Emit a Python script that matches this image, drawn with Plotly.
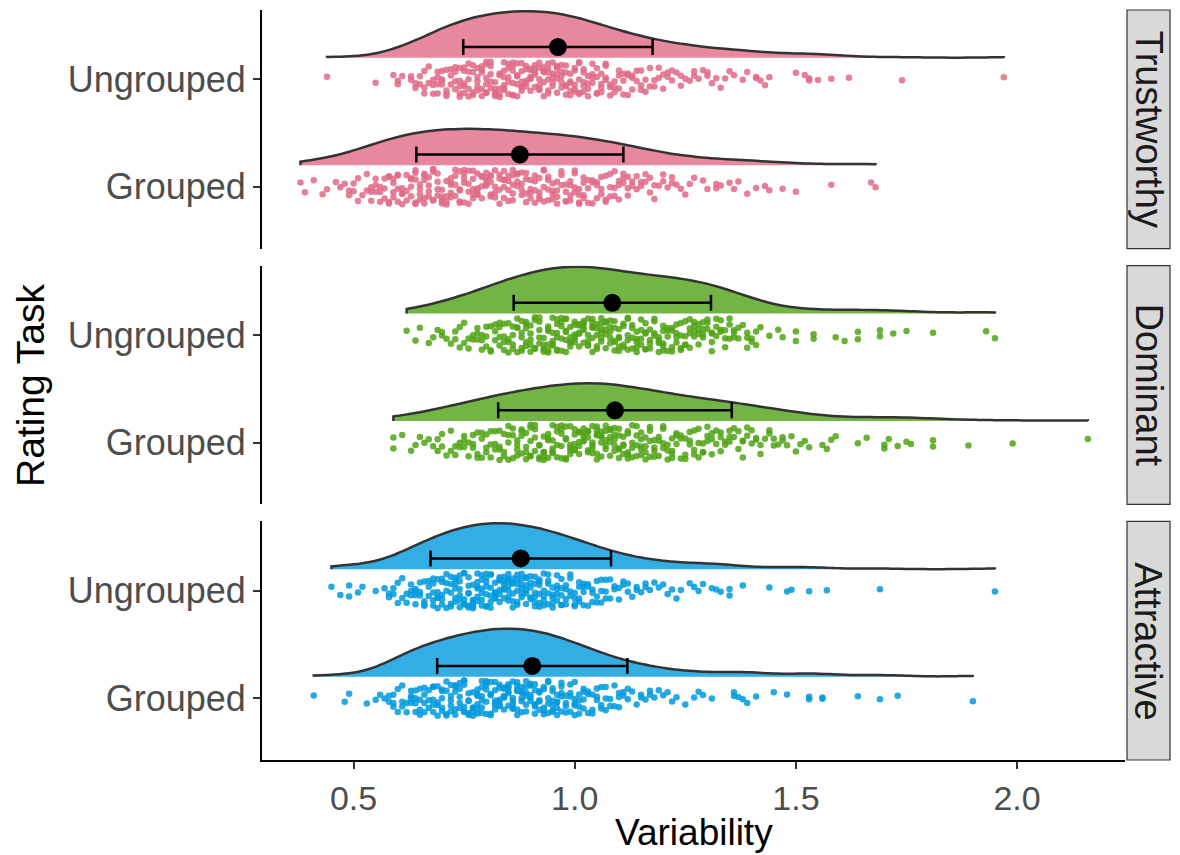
import plotly.graph_objects as go
from plotly.subplots import make_subplots

# ---------------- data ----------------
tasks = ["Trustworthy", "Dominant", "Attractive"]
conditions = ["Grouped", "Ungrouped"]
task_colors = ["#E16A86", "#50A315", "#009ADE"]

trust_ungrouped = [
    0.44, 0.55, 0.59, 0.60, 0.60, 0.61,
    0.63, 0.63, 0.64, 0.64, 0.65, 0.65, 0.66, 0.66, 0.66, 0.67, 0.67,
    0.68, 0.68, 0.68, 0.69, 0.69, 0.69, 0.69, 0.70, 0.70, 0.70, 0.70, 0.71, 0.71, 0.71, 0.71, 0.72, 0.72, 0.72,
    0.73, 0.73, 0.73, 0.73, 0.74, 0.74, 0.74, 0.74, 0.74, 0.75, 0.75, 0.75, 0.75, 0.75, 0.76, 0.76, 0.76, 0.76, 0.76, 0.77, 0.77, 0.77, 0.77,
    0.78, 0.78, 0.78, 0.78, 0.78, 0.79, 0.79, 0.79, 0.79, 0.79, 0.80, 0.80, 0.80, 0.80, 0.80, 0.80, 0.81, 0.81, 0.81, 0.81, 0.81, 0.82, 0.82, 0.82, 0.82, 0.82,
    0.83, 0.83, 0.83, 0.83, 0.83, 0.84, 0.84, 0.84, 0.84, 0.84, 0.84, 0.85, 0.85, 0.85, 0.85, 0.85, 0.86, 0.86, 0.86, 0.86, 0.86, 0.86, 0.87, 0.87, 0.87, 0.87, 0.87,
    0.88, 0.88, 0.88, 0.88, 0.88, 0.88, 0.89, 0.89, 0.89, 0.89, 0.89, 0.90, 0.90, 0.90, 0.90, 0.90, 0.90, 0.91, 0.91, 0.91, 0.91, 0.91, 0.92, 0.92, 0.92, 0.92, 0.92, 0.92,
    0.93, 0.93, 0.93, 0.93, 0.93, 0.94, 0.94, 0.94, 0.94, 0.94, 0.94, 0.95, 0.95, 0.95, 0.95, 0.95, 0.96, 0.96, 0.96, 0.96, 0.96, 0.96, 0.97, 0.97, 0.97, 0.97, 0.97,
    0.98, 0.98, 0.98, 0.98, 0.98, 0.99, 0.99, 0.99, 0.99, 0.99, 1.00, 1.00, 1.00, 1.00, 1.00, 1.01, 1.01, 1.01, 1.01, 1.01, 1.02, 1.02, 1.02, 1.02, 1.02,
    1.03, 1.03, 1.03, 1.03, 1.04, 1.04, 1.04, 1.04, 1.05, 1.05, 1.05, 1.05, 1.06, 1.06, 1.06, 1.06, 1.07, 1.07, 1.07, 1.07,
    1.08, 1.08, 1.08, 1.09, 1.09, 1.09, 1.10, 1.10, 1.10, 1.11, 1.11, 1.11, 1.12, 1.12, 1.12,
    1.13, 1.13, 1.13, 1.14, 1.14, 1.15, 1.15, 1.15, 1.16, 1.16, 1.17, 1.17,
    1.18, 1.18, 1.19, 1.19, 1.20, 1.20, 1.21, 1.21, 1.22, 1.22,
    1.23, 1.24, 1.24, 1.25, 1.26, 1.27, 1.27,
    1.28, 1.29, 1.30, 1.30, 1.31, 1.32,
    1.33, 1.34, 1.35, 1.36,
    1.38, 1.39, 1.41, 1.41, 1.42, 1.43, 1.44,
    1.50, 1.52, 1.53, 1.53, 1.55, 1.58, 1.62, 1.74, 1.97,
]

trust_grouped = [
    0.38, 0.39, 0.41, 0.43, 0.44, 0.46, 0.47,
    0.48, 0.49, 0.49, 0.50, 0.50, 0.51, 0.51, 0.52,
    0.53, 0.53, 0.54, 0.54, 0.54, 0.55, 0.55, 0.55, 0.56, 0.56, 0.56, 0.57, 0.57, 0.57,
    0.58, 0.58, 0.58, 0.58, 0.59, 0.59, 0.59, 0.59, 0.60, 0.60, 0.60, 0.60, 0.61, 0.61, 0.61, 0.61, 0.62, 0.62, 0.62,
    0.63, 0.63, 0.63, 0.63, 0.64, 0.64, 0.64, 0.64, 0.64, 0.65, 0.65, 0.65, 0.65, 0.66, 0.66, 0.66, 0.66, 0.66, 0.67, 0.67, 0.67, 0.67,
    0.68, 0.68, 0.68, 0.68, 0.68, 0.69, 0.69, 0.69, 0.69, 0.70, 0.70, 0.70, 0.70, 0.70, 0.71, 0.71, 0.71, 0.71, 0.72, 0.72, 0.72, 0.72, 0.72,
    0.73, 0.73, 0.73, 0.73, 0.74, 0.74, 0.74, 0.74, 0.74, 0.75, 0.75, 0.75, 0.75, 0.75, 0.76, 0.76, 0.76, 0.76, 0.77, 0.77, 0.77, 0.77, 0.77,
    0.78, 0.78, 0.78, 0.78, 0.78, 0.79, 0.79, 0.79, 0.79, 0.80, 0.80, 0.80, 0.80, 0.80, 0.81, 0.81, 0.81, 0.81, 0.81, 0.82, 0.82, 0.82, 0.82,
    0.83, 0.83, 0.83, 0.83, 0.84, 0.84, 0.84, 0.84, 0.84, 0.85, 0.85, 0.85, 0.85, 0.86, 0.86, 0.86, 0.86, 0.86, 0.87, 0.87, 0.87, 0.87,
    0.88, 0.88, 0.88, 0.88, 0.89, 0.89, 0.89, 0.89, 0.90, 0.90, 0.90, 0.90, 0.91, 0.91, 0.91, 0.91, 0.92, 0.92, 0.92, 0.92,
    0.93, 0.93, 0.93, 0.93, 0.94, 0.94, 0.94, 0.94, 0.95, 0.95, 0.95, 0.95, 0.96, 0.96, 0.96, 0.96, 0.97, 0.97, 0.97,
    0.98, 0.98, 0.98, 0.98, 0.99, 0.99, 0.99, 0.99, 1.00, 1.00, 1.00, 1.00, 1.01, 1.01, 1.01, 1.01, 1.02, 1.02, 1.02, 1.02,
    1.03, 1.03, 1.03, 1.04, 1.04, 1.04, 1.05, 1.05, 1.05, 1.06, 1.06, 1.06, 1.07, 1.07, 1.07,
    1.08, 1.08, 1.08, 1.09, 1.09, 1.09, 1.10, 1.10, 1.10, 1.11, 1.11, 1.11, 1.12, 1.12, 1.12,
    1.13, 1.13, 1.14, 1.14, 1.15, 1.15, 1.16, 1.16, 1.17, 1.17,
    1.18, 1.18, 1.19, 1.20, 1.20, 1.21, 1.22, 1.22,
    1.23, 1.24, 1.25, 1.26, 1.27,
    1.29, 1.30, 1.32, 1.32, 1.33, 1.35, 1.36, 1.37, 1.39, 1.41,
    1.43, 1.44, 1.47, 1.50, 1.58, 1.67, 1.68,
]

dominant_ungrouped = [
    0.62, 0.64, 0.65, 0.67,
    0.68, 0.69, 0.70, 0.70, 0.71, 0.72,
    0.73, 0.73, 0.74, 0.74, 0.75, 0.75, 0.76, 0.76, 0.77, 0.77,
    0.78, 0.78, 0.78, 0.79, 0.79, 0.79, 0.80, 0.80, 0.80, 0.81, 0.81, 0.81, 0.82, 0.82, 0.82,
    0.83, 0.83, 0.83, 0.83, 0.84, 0.84, 0.84, 0.84, 0.85, 0.85, 0.85, 0.85, 0.86, 0.86, 0.86, 0.86, 0.87, 0.87, 0.87, 0.87,
    0.88, 0.88, 0.88, 0.88, 0.88, 0.89, 0.89, 0.89, 0.89, 0.89, 0.90, 0.90, 0.90, 0.90, 0.90, 0.91, 0.91, 0.91, 0.91, 0.92, 0.92, 0.92, 0.92, 0.92,
    0.93, 0.93, 0.93, 0.93, 0.93, 0.94, 0.94, 0.94, 0.94, 0.94, 0.94, 0.95, 0.95, 0.95, 0.95, 0.95, 0.96, 0.96, 0.96, 0.96, 0.96, 0.96, 0.97, 0.97, 0.97, 0.97, 0.97,
    0.98, 0.98, 0.98, 0.98, 0.98, 0.98, 0.99, 0.99, 0.99, 0.99, 0.99, 1.00, 1.00, 1.00, 1.00, 1.00, 1.00, 1.01, 1.01, 1.01, 1.01, 1.01, 1.02, 1.02, 1.02, 1.02, 1.02, 1.02,
    1.03, 1.03, 1.03, 1.03, 1.03, 1.04, 1.04, 1.04, 1.04, 1.04, 1.04, 1.05, 1.05, 1.05, 1.05, 1.05, 1.06, 1.06, 1.06, 1.06, 1.06, 1.06, 1.07, 1.07, 1.07, 1.07, 1.07,
    1.08, 1.08, 1.08, 1.08, 1.08, 1.09, 1.09, 1.09, 1.09, 1.09, 1.10, 1.10, 1.10, 1.10, 1.10, 1.11, 1.11, 1.11, 1.11, 1.12, 1.12, 1.12, 1.12, 1.12,
    1.13, 1.13, 1.13, 1.13, 1.14, 1.14, 1.14, 1.14, 1.14, 1.15, 1.15, 1.15, 1.15, 1.16, 1.16, 1.16, 1.16, 1.16, 1.17, 1.17, 1.17, 1.17,
    1.18, 1.18, 1.18, 1.18, 1.19, 1.19, 1.19, 1.19, 1.20, 1.20, 1.20, 1.20, 1.20, 1.21, 1.21, 1.21, 1.21, 1.22, 1.22, 1.22, 1.22,
    1.23, 1.23, 1.23, 1.23, 1.24, 1.24, 1.24, 1.24, 1.25, 1.25, 1.25, 1.25, 1.26, 1.26, 1.26, 1.26, 1.27, 1.27, 1.27, 1.27,
    1.28, 1.28, 1.28, 1.28, 1.29, 1.29, 1.29, 1.29, 1.30, 1.30, 1.30, 1.31, 1.31, 1.31, 1.31, 1.32, 1.32, 1.32,
    1.33, 1.33, 1.33, 1.34, 1.34, 1.34, 1.35, 1.35, 1.35, 1.36, 1.36, 1.36, 1.37, 1.37,
    1.38, 1.39, 1.39, 1.39, 1.40, 1.40, 1.41, 1.41, 1.42,
    1.44, 1.46, 1.47, 1.50, 1.50,
    1.54, 1.54, 1.59, 1.61, 1.64, 1.64, 1.69, 1.69, 1.72, 1.75, 1.81, 1.93, 1.95,
]

dominant_grouped = [
    0.59, 0.59, 0.61,
    0.63, 0.64, 0.65, 0.66, 0.67,
    0.68, 0.69, 0.69, 0.70, 0.70, 0.71, 0.72, 0.72,
    0.73, 0.73, 0.74, 0.74, 0.75, 0.75, 0.75, 0.76, 0.76, 0.77, 0.77, 0.77,
    0.78, 0.78, 0.78, 0.79, 0.79, 0.79, 0.80, 0.80, 0.80, 0.81, 0.81, 0.81, 0.82, 0.82, 0.82,
    0.83, 0.83, 0.83, 0.83, 0.84, 0.84, 0.84, 0.85, 0.85, 0.85, 0.85, 0.86, 0.86, 0.86, 0.87, 0.87, 0.87, 0.87,
    0.88, 0.88, 0.88, 0.88, 0.89, 0.89, 0.89, 0.89, 0.90, 0.90, 0.90, 0.90, 0.90, 0.91, 0.91, 0.91, 0.91, 0.92, 0.92, 0.92, 0.92,
    0.93, 0.93, 0.93, 0.93, 0.93, 0.94, 0.94, 0.94, 0.94, 0.95, 0.95, 0.95, 0.95, 0.95, 0.96, 0.96, 0.96, 0.96, 0.97, 0.97, 0.97, 0.97, 0.97,
    0.98, 0.98, 0.98, 0.98, 0.98, 0.99, 0.99, 0.99, 0.99, 0.99, 1.00, 1.00, 1.00, 1.00, 1.00, 1.01, 1.01, 1.01, 1.01, 1.01, 1.02, 1.02, 1.02, 1.02, 1.02,
    1.03, 1.03, 1.03, 1.03, 1.03, 1.04, 1.04, 1.04, 1.04, 1.04, 1.05, 1.05, 1.05, 1.05, 1.05, 1.05, 1.06, 1.06, 1.06, 1.06, 1.06, 1.07, 1.07, 1.07, 1.07, 1.07,
    1.08, 1.08, 1.08, 1.08, 1.08, 1.09, 1.09, 1.09, 1.09, 1.09, 1.10, 1.10, 1.10, 1.10, 1.10, 1.11, 1.11, 1.11, 1.11, 1.12, 1.12, 1.12, 1.12, 1.12,
    1.13, 1.13, 1.13, 1.13, 1.14, 1.14, 1.14, 1.14, 1.15, 1.15, 1.15, 1.15, 1.15, 1.16, 1.16, 1.16, 1.16, 1.17, 1.17, 1.17, 1.17,
    1.18, 1.18, 1.18, 1.18, 1.19, 1.19, 1.19, 1.20, 1.20, 1.20, 1.20, 1.21, 1.21, 1.21, 1.22, 1.22, 1.22, 1.22,
    1.23, 1.23, 1.23, 1.24, 1.24, 1.24, 1.25, 1.25, 1.25, 1.26, 1.26, 1.26, 1.27, 1.27, 1.27,
    1.28, 1.28, 1.28, 1.29, 1.29, 1.29, 1.30, 1.30, 1.30, 1.31, 1.31, 1.31, 1.32, 1.32,
    1.33, 1.33, 1.33, 1.34, 1.34, 1.35, 1.35, 1.35, 1.36, 1.36, 1.37, 1.37,
    1.38, 1.38, 1.38, 1.39, 1.39, 1.40, 1.40, 1.41, 1.41, 1.42, 1.42,
    1.43, 1.44, 1.44, 1.45, 1.45, 1.46, 1.47, 1.47,
    1.48, 1.49, 1.50, 1.51, 1.52,
    1.53, 1.56, 1.57, 1.58, 1.59, 1.64, 1.66, 1.70, 1.70, 1.71, 1.73, 1.75, 1.76, 1.81, 1.81, 1.89, 1.99, 2.16,
]

attractive_ungrouped = [
    0.45, 0.47, 0.49, 0.49, 0.51, 0.52, 0.55, 0.57,
    0.58, 0.58, 0.59, 0.59, 0.60, 0.60, 0.61, 0.61, 0.62, 0.62,
    0.63, 0.63, 0.63, 0.64, 0.64, 0.64, 0.64, 0.65, 0.65, 0.65, 0.66, 0.66, 0.66, 0.66, 0.67, 0.67, 0.67,
    0.68, 0.68, 0.68, 0.68, 0.68, 0.69, 0.69, 0.69, 0.69, 0.69, 0.70, 0.70, 0.70, 0.70, 0.70, 0.71, 0.71, 0.71, 0.71, 0.72, 0.72, 0.72, 0.72, 0.72,
    0.73, 0.73, 0.73, 0.73, 0.73, 0.73, 0.74, 0.74, 0.74, 0.74, 0.74, 0.74, 0.75, 0.75, 0.75, 0.75, 0.75, 0.76, 0.76, 0.76, 0.76, 0.76, 0.76, 0.77, 0.77, 0.77, 0.77, 0.77, 0.77,
    0.78, 0.78, 0.78, 0.78, 0.78, 0.78, 0.79, 0.79, 0.79, 0.79, 0.79, 0.79, 0.80, 0.80, 0.80, 0.80, 0.80, 0.80, 0.80, 0.81, 0.81, 0.81, 0.81, 0.81, 0.81, 0.82, 0.82, 0.82, 0.82, 0.82, 0.82,
    0.83, 0.83, 0.83, 0.83, 0.83, 0.83, 0.84, 0.84, 0.84, 0.84, 0.84, 0.84, 0.85, 0.85, 0.85, 0.85, 0.85, 0.85, 0.85, 0.86, 0.86, 0.86, 0.86, 0.86, 0.86, 0.87, 0.87, 0.87, 0.87, 0.87, 0.87,
    0.88, 0.88, 0.88, 0.88, 0.88, 0.88, 0.89, 0.89, 0.89, 0.89, 0.89, 0.89, 0.90, 0.90, 0.90, 0.90, 0.90, 0.91, 0.91, 0.91, 0.91, 0.91, 0.91, 0.92, 0.92, 0.92, 0.92, 0.92, 0.92,
    0.93, 0.93, 0.93, 0.93, 0.93, 0.94, 0.94, 0.94, 0.94, 0.94, 0.95, 0.95, 0.95, 0.95, 0.95, 0.96, 0.96, 0.96, 0.96, 0.96, 0.97, 0.97, 0.97, 0.97, 0.97,
    0.98, 0.98, 0.98, 0.98, 0.99, 0.99, 0.99, 0.99, 1.00, 1.00, 1.00, 1.00, 1.01, 1.01, 1.01, 1.01, 1.02, 1.02, 1.02, 1.02,
    1.03, 1.03, 1.03, 1.04, 1.04, 1.04, 1.05, 1.05, 1.05, 1.06, 1.06, 1.06, 1.07, 1.07, 1.07,
    1.08, 1.08, 1.09, 1.09, 1.10, 1.10, 1.11, 1.11, 1.12, 1.12,
    1.13, 1.14, 1.14, 1.15, 1.16, 1.16, 1.17,
    1.18, 1.19, 1.20, 1.21, 1.22,
    1.23, 1.24, 1.26, 1.27,
    1.28, 1.29, 1.31, 1.32, 1.33, 1.35, 1.35, 1.38, 1.44, 1.48, 1.49, 1.53, 1.57, 1.69, 1.95,
]

attractive_grouped = [
    0.41, 0.48, 0.49, 0.53, 0.55, 0.56, 0.57,
    0.58, 0.58, 0.59, 0.59, 0.59, 0.60, 0.60, 0.61, 0.61, 0.61, 0.62, 0.62,
    0.63, 0.63, 0.63, 0.63, 0.64, 0.64, 0.64, 0.64, 0.65, 0.65, 0.65, 0.65, 0.66, 0.66, 0.66, 0.66, 0.67, 0.67, 0.67,
    0.68, 0.68, 0.68, 0.68, 0.68, 0.69, 0.69, 0.69, 0.69, 0.70, 0.70, 0.70, 0.70, 0.70, 0.71, 0.71, 0.71, 0.71, 0.72, 0.72, 0.72, 0.72, 0.72,
    0.73, 0.73, 0.73, 0.73, 0.73, 0.74, 0.74, 0.74, 0.74, 0.74, 0.75, 0.75, 0.75, 0.75, 0.75, 0.75, 0.76, 0.76, 0.76, 0.76, 0.76, 0.77, 0.77, 0.77, 0.77, 0.77,
    0.78, 0.78, 0.78, 0.78, 0.78, 0.78, 0.79, 0.79, 0.79, 0.79, 0.79, 0.79, 0.80, 0.80, 0.80, 0.80, 0.80, 0.80, 0.81, 0.81, 0.81, 0.81, 0.81, 0.82, 0.82, 0.82, 0.82, 0.82, 0.82,
    0.83, 0.83, 0.83, 0.83, 0.83, 0.83, 0.84, 0.84, 0.84, 0.84, 0.84, 0.84, 0.85, 0.85, 0.85, 0.85, 0.85, 0.85, 0.86, 0.86, 0.86, 0.86, 0.86, 0.86, 0.87, 0.87, 0.87, 0.87, 0.87, 0.87,
    0.88, 0.88, 0.88, 0.88, 0.88, 0.88, 0.89, 0.89, 0.89, 0.89, 0.89, 0.89, 0.90, 0.90, 0.90, 0.90, 0.90, 0.90, 0.91, 0.91, 0.91, 0.91, 0.91, 0.91, 0.92, 0.92, 0.92, 0.92, 0.92,
    0.93, 0.93, 0.93, 0.93, 0.93, 0.94, 0.94, 0.94, 0.94, 0.94, 0.95, 0.95, 0.95, 0.95, 0.95, 0.95, 0.96, 0.96, 0.96, 0.96, 0.96, 0.97, 0.97, 0.97, 0.97, 0.97,
    0.98, 0.98, 0.98, 0.98, 0.99, 0.99, 0.99, 0.99, 1.00, 1.00, 1.00, 1.00, 1.00, 1.01, 1.01, 1.01, 1.01, 1.02, 1.02, 1.02, 1.02,
    1.03, 1.03, 1.03, 1.04, 1.04, 1.04, 1.05, 1.05, 1.05, 1.06, 1.06, 1.06, 1.07, 1.07, 1.07,
    1.08, 1.08, 1.09, 1.09, 1.10, 1.10, 1.10, 1.11, 1.11, 1.12, 1.12,
    1.13, 1.14, 1.15, 1.15, 1.16, 1.17, 1.17,
    1.18, 1.19, 1.20, 1.21, 1.22,
    1.23, 1.25, 1.27,
    1.28, 1.29, 1.31, 1.36, 1.36, 1.37, 1.38, 1.39, 1.41, 1.45, 1.48, 1.53, 1.53, 1.56, 1.56, 1.64, 1.69, 1.73, 1.90,
]

# mean and standard deviation markers
mean_grouped = [0.876, 1.091, 0.904]
mean_ungrouped = [0.962, 1.085, 0.878]
sd_grouped = [0.234, 0.264, 0.215]
sd_ungrouped = [0.214, 0.223, 0.204]

# kernel bandwidths (estimated per group, R-style)
bw_grouped = [0.068, 0.074, 0.048]
bw_ungrouped = [0.061, 0.065, 0.050]

# peak height of each half-violin, in category units
peak_grouped = [0.340, 0.351, 0.447]
peak_ungrouped = [0.433, 0.434, 0.428]

x_ticks = [0.5, 1.0, 1.5, 2.0]
x_tick_text = ["0.5", "1.0", "1.5", "2.0"]

samples = {
    ("Trustworthy", "Grouped"): trust_grouped,
    ("Trustworthy", "Ungrouped"): trust_ungrouped,
    ("Dominant", "Grouped"): dominant_grouped,
    ("Dominant", "Ungrouped"): dominant_ungrouped,
    ("Attractive", "Grouped"): attractive_grouped,
    ("Attractive", "Ungrouped"): attractive_ungrouped,
}
means = {"Grouped": mean_grouped, "Ungrouped": mean_ungrouped}
sds = {"Grouped": sd_grouped, "Ungrouped": sd_ungrouped}
bws = {"Grouped": bw_grouped, "Ungrouped": bw_ungrouped}
peaks = {"Grouped": peak_grouped, "Ungrouped": peak_ungrouped}

# ---------------- styling ----------------
FONT = "Liberation Sans, Arial, Helvetica, sans-serif"
cat_pos = {"Grouped": 1, "Ungrouped": 2}
VIOLIN_SHIFT = 0.2
MEAN_SHIFT = 0.3
POINT_HALF_SPREAD = 0.165
Y_RANGE = [0.425, 2.645]

# the page body adds an 8 px offset; compensate so the plot lands where intended
FIG_W, FIG_H = 1172, 847
M_L, M_R, M_T, M_B = 254, 55, 2, 95
W_PLOT = FIG_W - M_L - M_R
H_PLOT = FIG_H - M_T - M_B


def rgba(hex_color, a):
    h = hex_color.lstrip("#")
    r, g, b = int(h[0:2], 16), int(h[2:4], 16), int(h[4:6], 16)
    return f"rgba({r},{g},{b},{a})"


fig = make_subplots(rows=3, cols=1, shared_xaxes=True, vertical_spacing=0.0227)

for r, (task, col) in enumerate(zip(tasks, task_colors), start=1):
    i = r - 1
    for cond in conditions:
        vals = samples[(task, cond)]
        half = peaks[cond][i]
        fig.add_trace(
            go.Violin(
                x=vals,
                y0=cat_pos[cond] + VIOLIN_SHIFT,
                orientation="h",
                side="positive",
                width=2 * half,
                spanmode="hard",
                bandwidth=bws[cond][i],
                scalemode="width",
                fillcolor=rgba(col, 0.8),
                line=dict(color="#333333", width=2.5),
                points="all",
                pointpos=-VIOLIN_SHIFT / half,
                jitter=POINT_HALF_SPREAD / half,
                marker=dict(color=rgba(col, 0.85), size=6.5, line=dict(width=0)),
                box_visible=False,
                meanline_visible=False,
                showlegend=False,
                hoverinfo="x",
            ),
            row=r, col=1,
        )
        fig.add_trace(
            go.Scatter(
                x=[means[cond][i]],
                y=[cat_pos[cond] + MEAN_SHIFT],
                mode="markers",
                marker=dict(color="black", size=18),
                error_x=dict(type="data", array=[sds[cond][i]], color="black",
                             thickness=2.5, width=8),
                showlegend=False,
            ),
            row=r, col=1,
        )

for r in range(1, 4):
    fig.update_yaxes(
        row=r, col=1, type="linear", range=Y_RANGE,
        tickvals=[cat_pos[c] for c in conditions], ticktext=conditions,
        showline=True, linecolor="black", linewidth=2,
        ticks="outside", ticklen=7, tickwidth=1.5, tickcolor="#333333",
        tickfont=dict(size=36, color="#4D4D4D", family=FONT),
        showgrid=False, zeroline=False,
    )
    fig.update_xaxes(
        row=r, col=1, range=[0.293, 2.244], showgrid=False, zeroline=False,
        tickvals=x_ticks, ticktext=x_tick_text,
    )
    if r < 3:
        fig.update_xaxes(row=r, col=1, showline=False, ticks="", showticklabels=False)
    else:
        fig.update_xaxes(
            row=r, col=1, showline=True, linecolor="black", linewidth=2,
            ticks="outside", ticklen=7, tickwidth=1.5, tickcolor="#333333",
            showticklabels=True,
            tickfont=dict(size=34, color="#4D4D4D", family=FONT),
        )

# facet strips on the right
strip_x0 = (1127 - 262) / W_PLOT
strip_x1 = (1170 - 262) / W_PLOT
for r, task in enumerate(tasks, start=1):
    yname = "yaxis" if r == 1 else f"yaxis{r}"
    d0, d1 = fig.layout[yname].domain
    fig.add_shape(type="rect", xref="paper", yref="paper",
                  x0=strip_x0, x1=strip_x1, y0=d0, y1=d1,
                  fillcolor="#D9D9D9", line=dict(color="#333333", width=1.2), layer="below")
    fig.add_annotation(xref="paper", yref="paper", x=(strip_x0 + strip_x1) / 2,
                       y=(d0 + d1) / 2, xanchor="center", yanchor="middle",
                       text=task, textangle=90, showarrow=False,
                       font=dict(size=38, color="#1A1A1A", family=FONT))

fig.add_annotation(xref="paper", yref="paper", x=(30 - 262) / W_PLOT, y=0.5,
                   xanchor="center", yanchor="middle",
                   text="Rating Task", textangle=-90, showarrow=False,
                   font=dict(size=39, color="black", family=FONT))
fig.add_annotation(xref="paper", yref="paper", x=0.5, y=(760 - 832) / H_PLOT,
                   xanchor="center", yanchor="middle",
                   text="Variability", showarrow=False,
                   font=dict(size=37, color="black", family=FONT))

fig.update_layout(
    width=FIG_W, height=FIG_H,
    margin=dict(l=M_L, r=M_R, t=M_T, b=M_B),
    paper_bgcolor="white", plot_bgcolor="white",
    font=dict(family=FONT),
    showlegend=False,
)

fig.write_html("out.html")
